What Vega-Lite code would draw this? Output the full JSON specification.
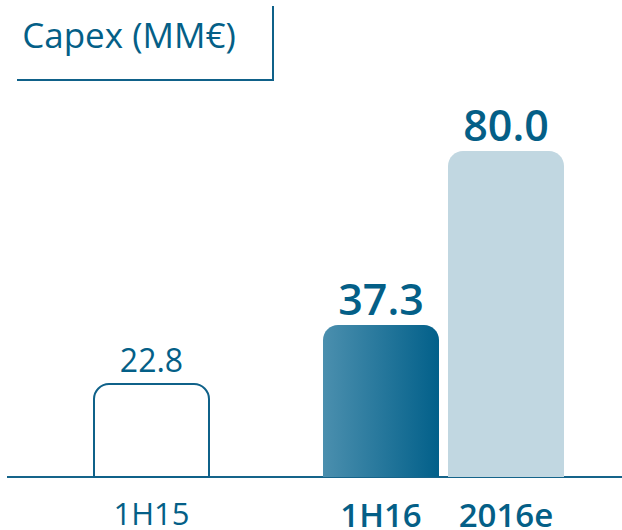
{
  "$schema": "https://vega.github.io/schema/vega-lite/v6.json",
  "autosize": {"type": "pad"},
  "padding": {"left": 6, "top": 5, "right": 0, "bottom": 0},
  "bounds": "flush",
  "spacing": 10,
  "config": {"view": {"stroke": null}, "font": "Open Sans"},
  "vconcat": [
    {
      "width": 266,
      "height": 74,
      "view": {"stroke": "#0f6189", "strokeWidth": 2, "strokeDash": [0, 266, 330, 84]},
      "data": {"values": [{"label": "Capex (MM€)"}]},
      "mark": {"type": "text", "fontSize": 35, "fontWeight": 500, "color": "#045f87", "align": "center", "baseline": "alphabetic", "dx": -11, "dy": 5},
      "encoding": {"text": {"field": "label"}}
    },
    {
      "width": 615,
      "height": 387,
      "data": {"values": [
        {"cat": "1H15", "value": 22.8},
        {"cat": "1H16", "value": 37.3},
        {"cat": "2016e", "value": 80.0}
      ]},
      "resolve": {"scale": {"x": "independent"}},
      "layer": [
        {
          "mark": {"type": "rule", "color": "#15648a", "strokeWidth": 2},
          "encoding": {"y": {"datum": 0, "type": "quantitative", "scale": {"domain": [0, 95], "nice": false}, "axis": null}}
        },
        {
          "transform": [{"filter": "datum.cat === '1H15'"}],
          "encoding": {
            "x": {"field": "cat", "type": "nominal", "scale": {"domain": ["1H15"], "range": [87, 202], "paddingInner": 0, "paddingOuter": 0}, "axis": null},
            "y": {"field": "value", "type": "quantitative", "scale": {"domain": [0, 95], "nice": false}, "axis": null}
          },
          "layer": [
            {"mark": {"type": "bar", "fill": "white", "stroke": "#0f6189", "strokeWidth": 2, "cornerRadiusTopLeft": 15, "cornerRadiusTopRight": 15}},
            {"mark": {"type": "text", "baseline": "alphabetic", "dy": -12, "fontSize": 32, "fontWeight": 500, "color": "#045f87"},
             "encoding": {"text": {"field": "value", "type": "quantitative", "format": ".1f"}}},
            {"mark": {"type": "text", "baseline": "alphabetic", "dy": 48, "fontSize": 31, "fontWeight": 500, "color": "#045f87"},
             "encoding": {"y": {"datum": 0, "type": "quantitative"}, "text": {"field": "cat"}}}
          ]
        },
        {
          "encoding": {
            "x": {"field": "cat", "type": "nominal", "scale": {"domain": ["1H16", "2016e"], "range": [316, 557], "paddingInner": 0.072, "paddingOuter": 0}, "axis": null},
            "y": {"field": "value", "type": "quantitative", "scale": {"domain": [0, 95], "nice": false}, "axis": null}
          },
          "layer": [
            {
              "transform": [{"filter": "datum.cat === '1H16'"}],
              "mark": {"type": "bar", "cornerRadiusTopLeft": 15, "cornerRadiusTopRight": 15,
                "color": {"gradient": "linear", "x1": 0, "x2": 1, "y1": 0, "y2": 0,
                  "stops": [{"offset": 0, "color": "#4b8fae"}, {"offset": 1, "color": "#02608a"}]}}
            },
            {
              "transform": [{"filter": "datum.cat === '2016e'"}],
              "mark": {"type": "bar", "cornerRadiusTopLeft": 15, "cornerRadiusTopRight": 15, "color": "#c1d7e1"}
            },
            {
              "transform": [{"filter": "datum.cat !== '1H15'"}],
              "mark": {"type": "text", "baseline": "alphabetic", "dy": -10, "fontSize": 43, "fontWeight": 600, "color": "#045f87"},
              "encoding": {"text": {"field": "value", "type": "quantitative", "format": ".1f"}}
            },
            {
              "transform": [{"filter": "datum.cat !== '1H15'"}],
              "mark": {"type": "text", "baseline": "alphabetic", "dy": 50, "fontSize": 33, "fontWeight": 600, "color": "#045f87"},
              "encoding": {"y": {"datum": 0, "type": "quantitative"}, "text": {"field": "cat"}}
            }
          ]
        }
      ]
    }
  ]
}
